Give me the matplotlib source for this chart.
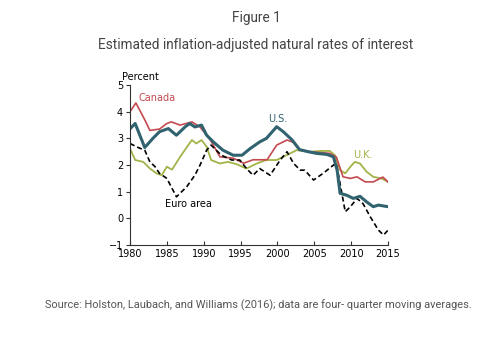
import matplotlib
matplotlib.use("Agg")
import matplotlib.pyplot as plt

# natural rate estimates (percent), read at irregular dates
canada_t = [1980.0, 1980.8, 1982.0, 1982.7, 1984.0, 1985.0, 1985.6, 1986.8, 1988.4, 1989.5,
            1990.9, 1992.2, 1994.0, 1995.4, 1996.7, 1998.6, 1999.9, 2001.3, 2002.1, 2003.0,
            2004.4, 2007.1, 2008.0, 2008.9, 2009.9, 2010.8, 2011.9, 2013.0, 2014.3, 2015.0]
canada = [4.0, 4.33, 3.7, 3.3, 3.35, 3.56, 3.62, 3.5, 3.62, 3.43,
          2.94, 2.31, 2.26, 2.07, 2.2, 2.2, 2.75, 2.94, 2.86, 2.58,
          2.5, 2.44, 2.3, 1.56, 1.5, 1.56, 1.37, 1.37, 1.55, 1.37]

us_t = [1980.0, 1980.7, 1982.0, 1983.1, 1984.0, 1985.2, 1986.3, 1987.5, 1988.1, 1988.8,
        1989.7, 1990.4, 1991.3, 1992.6, 1994.0, 1995.2, 1996.3, 1997.6, 1998.5, 1999.9,
        2000.8, 2002.0, 2003.0, 2004.2, 2005.3, 2006.7, 2007.6, 2008.1, 2008.5, 2009.4,
        2010.3, 2011.2, 2012.1, 2013.0, 2013.7, 2015.0]
us = [3.36, 3.56, 2.66, 3.0, 3.25, 3.37, 3.12, 3.44, 3.56, 3.43,
      3.5, 3.12, 2.87, 2.56, 2.37, 2.37, 2.62, 2.87, 3.0, 3.44,
      3.25, 2.94, 2.58, 2.5, 2.44, 2.4, 2.31, 1.81, 0.94, 0.87,
      0.75, 0.83, 0.62, 0.44, 0.5, 0.44]

uk_t = [1980.0, 1980.7, 1981.8, 1982.7, 1983.6, 1984.3, 1985.0, 1985.7, 1986.8, 1987.9,
        1988.4, 1989.0, 1989.7, 1990.4, 1991.0, 1992.2, 1993.3, 1994.5, 1995.8, 1997.2,
        1998.5, 1999.9, 2000.8, 2002.6, 2004.4, 2005.8, 2007.1, 2007.8, 2008.5, 2009.2,
        2009.9, 2010.5, 2011.2, 2012.1, 2013.0, 2014.1, 2015.0]
uk = [2.62, 2.19, 2.12, 1.87, 1.69, 1.62, 1.94, 1.83, 2.31, 2.75,
      2.94, 2.81, 2.94, 2.69, 2.19, 2.06, 2.12, 2.03, 1.87, 2.06,
      2.19, 2.19, 2.31, 2.56, 2.5, 2.53, 2.53, 2.37, 1.81, 1.69,
      1.94, 2.12, 2.06, 1.75, 1.56, 1.5, 1.37]

euro_t = [1980.0, 1981.1, 1982.0, 1982.7, 1983.4, 1984.0, 1985.0, 1986.3, 1987.7, 1988.8,
          1989.5, 1990.4, 1991.0, 1991.7, 1992.4, 1993.8, 1994.9, 1995.8, 1996.7, 1997.6,
          1999.0, 2000.4, 2001.3, 2002.2, 2003.1, 2003.7, 2004.9, 2006.2, 2007.6, 2008.0,
          2009.2, 2009.9, 2010.8, 2011.6, 2012.6, 2013.7, 2014.4, 2015.0]
euro = [2.81, 2.66, 2.56, 2.12, 1.94, 1.69, 1.5, 0.81, 1.19, 1.62,
        2.0, 2.56, 2.75, 2.56, 2.37, 2.19, 2.19, 1.87, 1.62, 1.87,
        1.62, 2.2, 2.5, 2.06, 1.81, 1.81, 1.44, 1.69, 2.0, 2.06,
        0.25, 0.44, 0.75, 0.56, 0.06, -0.44, -0.62, -0.44]

x_ticks = [1980, 1985, 1990, 1995, 2000, 2005, 2010, 2015]
y_ticks = [-1, 0, 1, 2, 3, 4, 5]

fig = plt.figure(figsize=(5.0, 3.39), dpi=100)
ax = fig.add_axes([0.26, 0.277, 0.516, 0.472])

ax.plot(uk_t, uk, color='#a3b347', linewidth=1.3)
ax.plot(canada_t, canada, color='#c44a50', linewidth=1.2)
ax.plot(euro_t, euro, color='black', linewidth=1.2, linestyle=(0, (3, 1.8)))
ax.plot(us_t, us, color='#30636f', linewidth=2.2)

ax.set_xlim(1980, 2015)
ax.set_ylim(-1, 5)
ax.set_xticks(x_ticks)
ax.set_yticks(y_ticks)
for s in ['top', 'right']:
    ax.spines[s].set_visible(False)
for s in ['left', 'bottom']:
    ax.spines[s].set_color('#333333')
    ax.spines[s].set_linewidth(0.8)
ax.tick_params(axis='x', direction='in', length=3, labelsize=7, pad=3, color='#333333')
ax.tick_params(axis='y', direction='out', length=3, labelsize=7, pad=2, color='#333333')

lab = dict(fontsize=7)
ax.text(1981.2, 4.4, "Canada", color='#c44a50', **lab)
ax.text(1998.8, 3.6, "U.S.", color='#30636f', **lab)
ax.text(2010.3, 2.25, "U.K.", color='#a3b347', **lab)
ax.text(1984.8, 0.42, "Euro area", color='black', **lab)
ax.text(-0.03, 1.02, "Percent", transform=ax.transAxes, ha='left', va='bottom', fontsize=7)

fig.text(0.512, 0.947, "Figure 1", ha='center', va='center', fontsize=9.8,
         color='#444444', family='Roboto')
fig.text(0.512, 0.866, "Estimated inflation-adjusted natural rates of interest",
         ha='center', va='center', fontsize=9.8, color='#444444', family='Roboto')
fig.text(0.09, 0.1, "Source: Holston, Laubach, and Williams (2016); data are four- quarter moving averages.",
         ha='left', va='center', fontsize=7.95, color='#555555', family='Roboto')

fig.savefig("out.png", dpi=100)
